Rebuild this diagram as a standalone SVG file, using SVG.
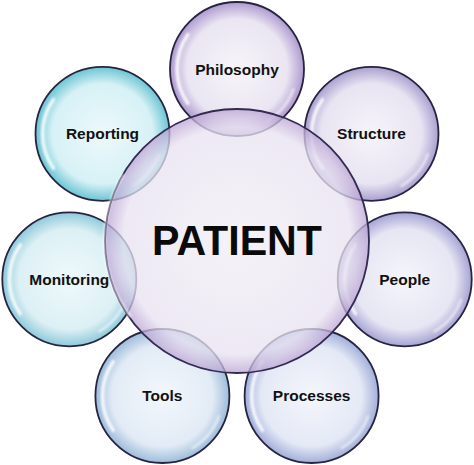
<svg xmlns="http://www.w3.org/2000/svg" width="474" height="465" viewBox="0 0 474 465">
<defs>
<style>
.bub{stroke:#26243f;stroke-width:1.8;fill-opacity:0.92}
.ctr{stroke:#332a50;stroke-width:1.8;fill-opacity:0.76}
.hl{fill:none;stroke:#ffffff;stroke-linecap:round;filter:url(#soft)}
.lbl{font-family:"Liberation Sans",Arial,sans-serif;font-weight:bold;font-size:15.5px;fill:#111;text-anchor:middle}
.big{font-family:"Liberation Sans",Arial,sans-serif;font-weight:bold;font-size:43px;fill:#0a0a0a;text-anchor:middle}
</style>
<filter id="soft" x="-20%" y="-20%" width="140%" height="140%"><feGaussianBlur stdDeviation="0.9"/></filter>
<radialGradient id="gPhil"><stop offset="0" stop-color="#f6f4f9"/><stop offset="0.75" stop-color="#e8e3f1"/><stop offset="1" stop-color="#a892cc"/></radialGradient>
<radialGradient id="gStruct"><stop offset="0" stop-color="#f5f3f9"/><stop offset="0.75" stop-color="#e6e2f1"/><stop offset="1" stop-color="#a498cc"/></radialGradient>
<radialGradient id="gPeople"><stop offset="0" stop-color="#f4f4fa"/><stop offset="0.75" stop-color="#e4e4f3"/><stop offset="1" stop-color="#9e9cd0"/></radialGradient>
<radialGradient id="gProc"><stop offset="0" stop-color="#f3f5fb"/><stop offset="0.75" stop-color="#e2e7f5"/><stop offset="1" stop-color="#9aa8d6"/></radialGradient>
<radialGradient id="gTools"><stop offset="0" stop-color="#f1f6fb"/><stop offset="0.75" stop-color="#e0eaf5"/><stop offset="1" stop-color="#96b6d8"/></radialGradient>
<radialGradient id="gMon"><stop offset="0" stop-color="#eef8fa"/><stop offset="0.75" stop-color="#d9eff4"/><stop offset="1" stop-color="#86c5d8"/></radialGradient>
<radialGradient id="gRep"><stop offset="0" stop-color="#ebf8fa"/><stop offset="0.75" stop-color="#d3f0f5"/><stop offset="1" stop-color="#60c0d0"/></radialGradient>
<radialGradient id="gCtr"><stop offset="0" stop-color="#f1eff5"/><stop offset="0.86" stop-color="#e8e2f1"/><stop offset="1" stop-color="#bba4d4"/></radialGradient>
<g id="hlSmall">
<path class="hl" d="M -49.1 34.4 A 60 60 0 0 1 -49.1 -34.4" stroke-width="3.5" stroke-opacity="0.85"/>
<path class="hl" d="M 56.4 20.5 A 60 60 0 0 1 30 52" stroke-width="2.5" stroke-opacity="0.6"/>
</g>
</defs>

<g id="connectors"/>

<g id="node-philosophy">
<circle class="bub" cx="237" cy="69" r="67" fill="url(#gPhil)"/>
<use href="#hlSmall" transform="translate(237,69)"/>
<text class="lbl" x="237" y="75">Philosophy</text>
</g>
<g id="node-structure">
<circle class="bub" cx="371.5" cy="133.8" r="67" fill="url(#gStruct)"/>
<use href="#hlSmall" transform="translate(371.5,133.8)"/>
<text class="lbl" x="371.5" y="139">Structure</text>
</g>
<g id="node-people">
<circle class="bub" cx="404.7" cy="279.3" r="67" fill="url(#gPeople)"/>
<use href="#hlSmall" transform="translate(404.7,279.3)"/>
<text class="lbl" x="404.7" y="284.5">People</text>
</g>
<g id="node-processes">
<circle class="bub" cx="311.6" cy="396" r="67" fill="url(#gProc)"/>
<use href="#hlSmall" transform="translate(311.6,396)"/>
<text class="lbl" x="311.6" y="401">Processes</text>
</g>
<g id="node-tools">
<circle class="bub" cx="162.4" cy="396" r="67" fill="url(#gTools)"/>
<use href="#hlSmall" transform="translate(162.4,396)"/>
<text class="lbl" x="162.4" y="401">Tools</text>
</g>
<g id="node-monitoring">
<circle class="bub" cx="69.3" cy="279.3" r="67" fill="url(#gMon)"/>
<use href="#hlSmall" transform="translate(69.3,279.3)"/>
<text class="lbl" x="69.3" y="284.5">Monitoring</text>
</g>
<g id="node-reporting">
<circle class="bub" cx="102.5" cy="133.8" r="67" fill="url(#gRep)"/>
<use href="#hlSmall" transform="translate(102.5,133.8)"/>
<text class="lbl" x="102.5" y="139">Reporting</text>
</g>

<g id="node-patient">
<circle class="ctr" cx="237" cy="241" r="132" fill="url(#gCtr)"/>
<path class="hl" d="M 130 316 A 124 124 0 0 1 123 175" stroke-width="3" stroke-opacity="0.55"/>
<text class="big" x="237" y="255" textLength="170" lengthAdjust="spacingAndGlyphs">PATIENT</text>
</g>
</svg>
